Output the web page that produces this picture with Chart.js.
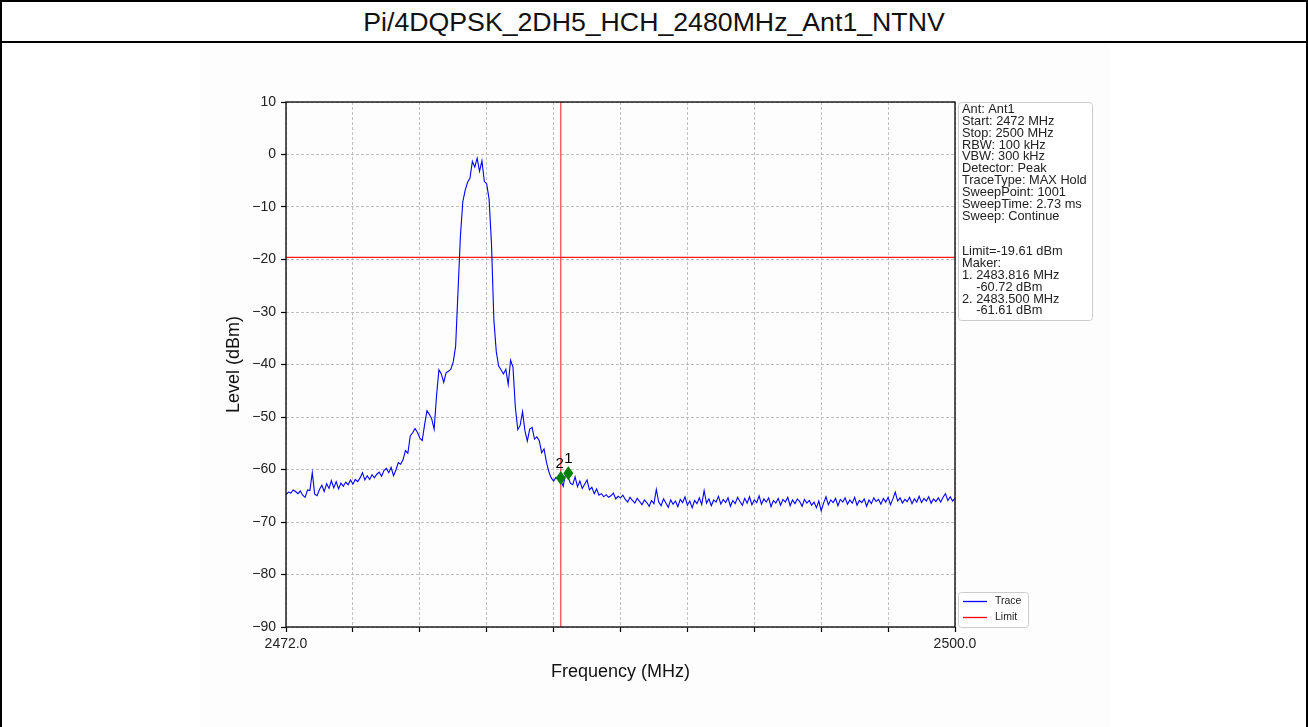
<!DOCTYPE html>
<html lang="en">
<head>
<meta charset="UTF-8">
<title>Pi/4DQPSK_2DH5_HCH_2480MHz_Ant1_NTNV</title>
<script src="https://cdn.jsdelivr.net/npm/chart.js"></script>
<style>
    html, body { margin: 0; padding: 0; background: #fff; }
    body { width: 1308px; height: 727px; overflow: hidden; position: relative;
           font-family: 'Liberation Sans', Arial, sans-serif; }
    .frame { position: absolute; left: 0; top: 0; width: 1304px; height: 725px;
             border: 2px solid #000; border-bottom: none; }
    .title { height: 39px; line-height: 40px; border-bottom: 2px solid #000;
             text-align: center; font-size: 26.7px; color: #111; }
    .panel { position: absolute; left: 200px; top: 44px; width: 910px; height: 683px; background: #fdfdfd; }
</style>
</head>
<body>
<div class="frame">
    <div class="title">Pi/4DQPSK_2DH5_HCH_2480MHz_Ant1_NTNV</div>
</div>
<div class="panel"><canvas id="spectrum" width="910" height="683"></canvas></div>

<script>
// sweep span
const startMHz = 2472;
const stopMHz = 2500;

// trace level (dBm), 0.1 MHz per sample from 2472.0 to 2500.0
const traceLevel = [
    -64.8, -64.3, -64.5, -63.9, -64.2, -64.6, -64.1, -64.9, -65.3, -63.9,
    -64.0, -60.6, -64.7, -65.0, -63.8, -63.0, -64.2, -62.7, -63.6, -62.1,
    -63.5, -62.3, -63.7, -62.6, -63.2, -62.4, -62.9, -62.0, -62.8, -61.9,
    -62.3, -61.6, -60.6, -62.0, -61.2, -61.9, -61.0, -61.6, -60.9, -60.5,
    -61.3, -60.2, -59.8, -60.6, -59.6, -61.2, -60.1, -58.7, -59.0, -58.1,
    -56.4, -56.9, -53.6, -53.0, -52.2, -52.9, -54.0, -54.5, -51.5, -48.8,
    -49.5, -50.4, -52.3, -46.0, -41.0, -41.8, -43.4, -41.6, -41.3, -40.9,
    -39.5, -36.5, -26.0, -15.5, -9.0, -6.8, -5.3, -4.5, -1.3, -2.4,
    -0.7, -3.2, -1.2, -5.1, -5.6, -8.5, -17.0, -31.5, -37.5, -40.3,
    -41.0, -41.8, -40.9, -43.8, -39.2, -40.5, -48.2, -52.4, -51.6, -49.0,
    -52.6, -54.6, -52.3, -52.0, -54.2, -53.8, -54.5, -56.8, -56.1, -58.6,
    -60.4, -61.6, -62.2, -61.5, -61.9, -62.0, -63.2, -60.9, -61.3, -62.6,
    -62.9, -61.4, -63.3, -62.2, -63.6, -62.8, -62.0, -63.9, -63.4, -64.6,
    -63.7, -64.9, -64.6, -65.2, -64.8, -65.3, -65.0, -64.5, -65.6, -65.1,
    -65.4, -64.9, -65.7, -66.2, -65.3, -65.9, -66.4, -65.5, -66.1, -66.7,
    -65.8, -66.3, -67.0, -65.9, -66.5, -63.8, -66.2, -66.9, -65.6, -66.4,
    -67.2, -65.8, -66.6, -66.0, -67.1, -65.7, -66.3, -65.2, -66.8, -66.0,
    -67.3, -65.9, -66.5, -65.4, -66.7, -64.0, -66.4, -65.6, -66.9, -65.8,
    -66.2, -65.1, -66.6, -65.7, -66.3, -65.4, -67.0, -65.9, -66.5, -65.3,
    -66.1, -66.8, -65.5, -66.4, -65.2, -66.7, -65.8, -66.3, -65.0, -66.6,
    -65.6, -66.2, -65.4, -67.1, -65.9, -66.4, -65.5, -66.8, -65.7, -66.2,
    -65.3, -66.9, -65.8, -66.5, -65.6, -66.1, -67.0, -65.7, -66.4, -65.9,
    -66.8, -66.2, -67.3, -66.0, -67.9, -66.4, -65.2, -66.7, -65.8, -66.3,
    -65.5, -66.9, -65.7, -66.2, -65.4, -66.6, -65.8, -66.4, -65.3, -66.8,
    -65.9, -66.3, -65.6, -67.0, -65.8, -66.5, -65.4, -66.1, -65.7, -66.6,
    -65.5, -66.2, -65.3, -66.7, -65.6, -64.3, -66.0, -65.4, -66.4, -65.7,
    -66.1, -65.3, -66.5, -65.6, -66.2, -65.1, -66.3, -65.5, -66.0, -65.2,
    -66.4, -65.6, -66.1, -65.4, -66.2, -65.3, -64.6, -65.9, -65.2, -66.0,
    -65.5
];

const limitLevel = -19.61;
const bandEdgeMHz = 2483.5;

// markers: frequency (MHz), level (dBm), label
const markerFreq = [2483.816, 2483.500];
const markerLevel = [-60.72, -61.61];
const markerName = ['1', '2'];

const xTickValues = [2472, 2474.8, 2477.6, 2480.4, 2483.2, 2486, 2488.8, 2491.6, 2494.4, 2497.2, 2500];
const yTickValues = [-90, -80, -70, -60, -50, -40, -30, -20, -10, 0, 10];

const infoLines = [
    'Ant: Ant1',
    'Start: 2472 MHz',
    'Stop: 2500 MHz',
    'RBW: 100 kHz',
    'VBW: 300 kHz',
    'Detector: Peak',
    'TraceType: MAX Hold',
    'SweepPoint: 1001',
    'SweepTime: 2.73 ms',
    'Sweep: Continue',
    '',
    '',
    'Limit=-19.61 dBm',
    'Maker:',
    '1. 2483.816 MHz',
    '    -60.72 dBm',
    '2. 2483.500 MHz',
    '    -61.61 dBm'
];

const FONT = "'Liberation Sans', Arial, sans-serif";

const step = (stopMHz - startMHz) / (traceLevel.length - 1);
const tracePoints = traceLevel.map((v, i) => ({ x: startMHz + i * step, y: v }));

function roundRect(ctx, x, y, w, h, r) {
    ctx.beginPath();
    ctx.moveTo(x + r, y);
    ctx.lineTo(x + w - r, y);
    ctx.quadraticCurveTo(x + w, y, x + w, y + r);
    ctx.lineTo(x + w, y + h - r);
    ctx.quadraticCurveTo(x + w, y + h, x + w - r, y + h);
    ctx.lineTo(x + r, y + h);
    ctx.quadraticCurveTo(x, y + h, x, y + h - r);
    ctx.lineTo(x, y + r);
    ctx.quadraticCurveTo(x, y, x + r, y);
    ctx.closePath();
}

// axes frame, markers, info text box and legend
const overlay = {
    id: 'overlay',
    afterDatasetsDraw(chart) {
        const { ctx, chartArea: a, scales } = chart;
        ctx.save();

        // markers as thin green diamonds with their number above
        markerFreq.forEach((f, i) => {
            const px = scales.x.getPixelForValue(f);
            const py = scales.y.getPixelForValue(markerLevel[i]);
            ctx.beginPath();
            ctx.moveTo(px, py - 7);
            ctx.lineTo(px + 5, py);
            ctx.lineTo(px, py + 7);
            ctx.lineTo(px - 5, py);
            ctx.closePath();
            ctx.fillStyle = '#008000';
            ctx.fill();
            ctx.fillStyle = '#000';
            ctx.font = '15px ' + FONT;
            ctx.textAlign = 'center';
            ctx.textBaseline = 'middle';
            ctx.fillText(markerName[i], px + (i === 1 ? -1 : 0), py - 14);
        });

        // plot frame
        ctx.strokeStyle = '#000';
        ctx.lineWidth = 1.3;
        ctx.strokeRect(a.left, a.top, a.right - a.left, a.bottom - a.top);

        // info box
        const bx = a.right + 3, by = a.top;
        roundRect(ctx, bx + 0.5, by + 0.5, 134, 218, 3);
        ctx.fillStyle = '#fff';
        ctx.fill();
        ctx.strokeStyle = '#cccccc';
        ctx.lineWidth = 1;
        ctx.stroke();
        ctx.fillStyle = '#222';
        ctx.font = '12.8px ' + FONT;
        ctx.textAlign = 'left';
        ctx.textBaseline = 'middle';
        infoLines.forEach((t, k) => {
            ctx.fillText(t, bx + 4, by + 7.5 + k * 11.85);
        });

        // legend
        const lx = a.right + 3, ly = a.bottom - 35;
        roundRect(ctx, lx + 0.5, ly + 0.5, 70, 35, 3);
        ctx.fillStyle = '#fff';
        ctx.fill();
        ctx.strokeStyle = '#cccccc';
        ctx.stroke();
        [['Trace', '#0000ff'], ['Limit', '#ff0000']].forEach(([name, color], k) => {
            const yy = ly + 9.5 + k * 16;
            ctx.strokeStyle = color;
            ctx.lineWidth = 1.3;
            ctx.beginPath();
            ctx.moveTo(lx + 5, yy);
            ctx.lineTo(lx + 29, yy);
            ctx.stroke();
            ctx.fillStyle = '#222';
            ctx.font = '10.5px ' + FONT;
            ctx.fillText(name, lx + 37, yy);
        });
        ctx.restore();
    }
};

new Chart(document.getElementById('spectrum'), {
    type: 'line',
    data: {
        datasets: [
            {
                label: 'Trace',
                data: tracePoints,
                borderColor: '#0000ff',
                borderWidth: 1.1,
                pointRadius: 0,
                tension: 0
            },
            {
                label: 'Limit',
                data: [{ x: startMHz, y: limitLevel }, { x: stopMHz, y: limitLevel }],
                borderColor: 'rgba(255,0,0,0.9)',
                borderWidth: 1.2,
                pointRadius: 0
            },
            {
                label: 'Band edge',
                data: [{ x: bandEdgeMHz, y: -90 }, { x: bandEdgeMHz, y: 10 }],
                borderColor: 'rgba(255,0,0,0.75)',
                borderWidth: 1.2,
                pointRadius: 0
            }
        ]
    },
    options: {
        responsive: false,
        animation: false,
        layout: { padding: { left: 0, right: 155, top: 58, bottom: 0 } },
        plugins: {
            legend: { display: false },
            tooltip: { enabled: false }
        },
        scales: {
            x: {
                type: 'linear',
                min: startMHz,
                max: stopMHz,
                afterBuildTicks: scale => { scale.ticks = xTickValues.map(v => ({ value: v })); },
                afterFit: scale => { scale.height = 100; },
                ticks: {
                    autoSkip: false,
                    maxRotation: 0,
                    padding: 4,
                    color: '#222',
                    font: { family: FONT, size: 14 },
                    callback: (v, i, ticks) => (i === 0 || i === ticks.length - 1) ? Number(v).toFixed(1) : ''
                },
                grid: {
                    color: '#b0b0b0',
                    lineWidth: 0.8,
                    tickLength: 5,
                    tickColor: '#000',
                    tickWidth: 1.2,
                    tickBorderDash: []
                },
                border: { display: false, dash: [3, 2] },
                title: {
                    display: true,
                    text: 'Frequency (MHz)',
                    color: '#111',
                    font: { family: FONT, size: 18 },
                    padding: { top: 0, bottom: 44 }
                }
            },
            y: {
                min: -90,
                max: 10,
                afterBuildTicks: scale => { scale.ticks = yTickValues.map(v => ({ value: v })); },
                afterFit: scale => { scale.width = 86; },
                ticks: {
                    padding: 5,
                    color: '#222',
                    font: { family: FONT, size: 14 },
                    callback: v => v < 0 ? '\u2212' + Math.abs(v) : String(v)
                },
                grid: {
                    color: '#b0b0b0',
                    lineWidth: 0.8,
                    tickLength: 5,
                    tickColor: '#000',
                    tickWidth: 1.2,
                    tickBorderDash: []
                },
                border: { display: false, dash: [3, 2] },
                title: {
                    display: true,
                    text: 'Level (dBm)',
                    color: '#111',
                    font: { family: FONT, size: 18 },
                    padding: { top: 23, bottom: 0 }
                }
            }
        }
    },
    plugins: [overlay]
});
</script>
</body>
</html>
